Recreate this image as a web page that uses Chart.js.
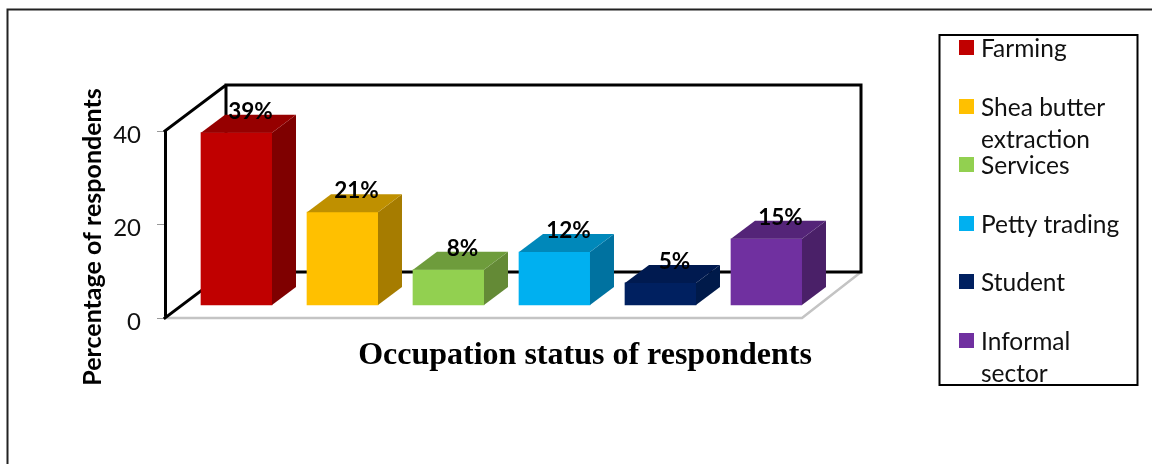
<!DOCTYPE html>
<html><head><meta charset="utf-8">
<style>html,body{margin:0;padding:0;background:#fff}canvas{display:block}</style>
<script src="https://cdn.jsdelivr.net/npm/chart.js@4"></script>
</head><body>
<div style="width:1152px;height:464px"><canvas id="c" width="1152" height="464"></canvas></div>
<script>
const categories = ["Farming","Shea butter extraction","Services","Petty trading","Student","Informal sector"];
const legendLines = [["Farming"],["Shea butter","extraction"],["Services"],["Petty trading"],["Student"],["Informal","sector"]];
const values = [39,21,8,12,5,15];
const frontColors = ["#C00000","#FFC000","#92D050","#00B0F0","#002060","#7030A0"];
const sideColors  = ["#7F0000","#A67C00","#648A36","#0072A0","#001A4A","#4A2068"];
const topColors   = ["#960000","#BF9000","#6E9C3C","#0088BA","#001A50","#542478"];
const yTicks = [0,20,40];
const yTitle = "Percentage of respondents";
const xTitle = "Occupation status of respondents";
const sans = "Lato, Carlito, sans-serif";

const decor = {
  id:'decor',
  beforeDatasetsDraw(chart){
    const {ctx,chartArea:a} = chart, dx=61, dy=-46;
    ctx.save();
    ctx.lineCap='square';
    // outer border
    ctx.strokeStyle='#222'; ctx.lineWidth=2;
    ctx.beginPath(); ctx.moveTo(7.5,464); ctx.lineTo(7.5,9.5); ctx.lineTo(1152,9.5); ctx.stroke();
    // floor
    ctx.strokeStyle='#c4c4c4'; ctx.lineWidth=2.5;
    ctx.beginPath(); ctx.moveTo(a.left,a.bottom); ctx.lineTo(a.right,a.bottom);
    ctx.lineTo(a.right+dx-2,a.bottom+dy); ctx.stroke();
    // back walls
    ctx.strokeStyle='#000'; ctx.lineWidth=3;
    ctx.beginPath();
    ctx.moveTo(a.left,a.top); ctx.lineTo(a.left+dx,a.top+dy);
    ctx.lineTo(a.right+59,a.top+dy); ctx.lineTo(a.right+59,a.bottom+dy);
    ctx.lineTo(a.left+dx,a.bottom+dy); ctx.lineTo(a.left+dx,a.top+dy);
    ctx.moveTo(a.left,a.bottom); ctx.lineTo(a.left+dx,a.bottom+dy);
    ctx.stroke();
    ctx.restore();
  },
  afterDatasetsDraw(chart){
    const {ctx} = chart, meta = chart.getDatasetMeta(0), dx=24, dy=-18;
    ctx.save();
    meta.data.forEach((b,i)=>{
      const h=b.width/2, L=b.x-h, R=b.x+h, T=b.y, B=b.base;
      ctx.fillStyle=sideColors[i];
      ctx.beginPath(); ctx.moveTo(R,T); ctx.lineTo(R+dx,T+dy); ctx.lineTo(R+dx,B+dy); ctx.lineTo(R,B); ctx.closePath(); ctx.fill();
      ctx.fillStyle=topColors[i];
      ctx.beginPath(); ctx.moveTo(L,T); ctx.lineTo(L+dx,T+dy); ctx.lineTo(R+dx,T+dy); ctx.lineTo(R,T); ctx.closePath(); ctx.fill();
    });
    // data labels
    ctx.fillStyle='#000'; ctx.font='bold 22.5px '+sans; ctx.textAlign='center'; ctx.textBaseline='middle';
    meta.data.forEach((b,i)=>ctx.fillText(values[i]+'%', b.x+14, b.y-21));
    // axis titles
    ctx.font='bold 25px '+sans;
    ctx.save(); ctx.translate(93,237); ctx.rotate(-Math.PI/2); ctx.fillText(yTitle,0,0); ctx.restore();
    ctx.font='bold 32px "Liberation Serif"';
    ctx.fillText(xTitle,585,356);
    // legend
    ctx.strokeStyle='#000'; ctx.lineWidth=2; ctx.strokeRect(939.5,35,198,350);
    const swatchY=[40,99,157,216,274,333];
    ctx.textAlign='left'; ctx.font='24.5px '+sans; ctx.fillStyle='#111';
    legendLines.forEach((lines,i)=>{
      ctx.save(); ctx.fillStyle=frontColors[i]; ctx.fillRect(959,swatchY[i],15,15); ctx.restore();
      lines.forEach((t,j)=>ctx.fillText(t,981,swatchY[i]+9+j*32));
    });
    ctx.restore();
  }
};

new Chart(document.getElementById('c'),{
  type:'bar',
  data:{datasets:[{
    label:'Occupation status of respondents',
    data:values.map((v,i)=>({x:i,y:v})),
    backgroundColor:frontColors,
    borderWidth:0,
    barThickness:71,
    xAxisID:'x', yAxisID:'y2'
  }]},
  options:{
    responsive:false, animation:false,
    layout:{padding:{left:0,right:350,top:131,bottom:146}},
    plugins:{legend:{display:false},tooltip:{enabled:false},title:{display:false}},
    scales:{
      x:{type:'linear',offset:false,display:false,min:-0.6745,max:5.335,grid:{display:false}},
      y:{position:'left',min:0,max:40,
         afterBuildTicks(s){s.ticks=yTicks.map(v=>({value:v}));},
         afterFit(s){s.width=165;},
         border:{display:true,color:'#000',width:3},
         grid:{drawOnChartArea:false,drawTicks:true,tickLength:8,color:'#999',offset:false},
         ticks:{padding:16,labelOffset:4,color:'#111',font:{family:sans,size:24}}},
      y2:{display:false,position:'left',min:-2.94,max:39.37,grid:{display:false}}
    }
  },
  plugins:[decor]
});
</script>
</body></html>
